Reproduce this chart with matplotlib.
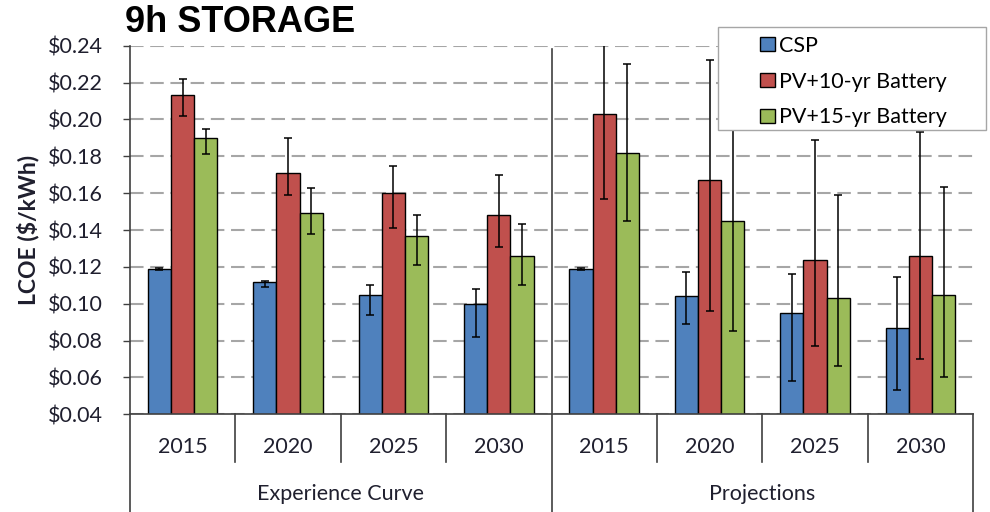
import numpy as np
import matplotlib.pyplot as plt
from matplotlib.patches import Patch, Rectangle

plt.rcParams['font.family'] = ['Lato', 'DejaVu Sans']

years = ["2015", "2020", "2025", "2030"]
groups = ["Experience Curve", "Projections"]
series = ["CSP", "PV+10-yr Battery", "PV+15-yr Battery"]
colors = ["#4F81BD", "#C0504D", "#9BBB59"]

# LCOE ($/kWh): 4 experience-curve years followed by 4 projection years
csp = [0.119, 0.112, 0.105, 0.100, 0.119, 0.104, 0.095, 0.087]
csp_lo = [0.1185, 0.109, 0.094, 0.082, 0.1185, 0.089, 0.058, 0.053]
csp_hi = [0.1195, 0.1125, 0.110, 0.108, 0.1195, 0.117, 0.116, 0.1145]

pv10 = [0.213, 0.171, 0.160, 0.148, 0.203, 0.167, 0.124, 0.126]
pv10_lo = [0.202, 0.159, 0.141, 0.131, 0.157, 0.096, 0.077, 0.070]
pv10_hi = [0.222, 0.190, 0.175, 0.170, 0.250, 0.232, 0.189, 0.193]

pv15 = [0.190, 0.149, 0.137, 0.126, 0.182, 0.145, 0.103, 0.105]
pv15_lo = [0.181, 0.138, 0.121, 0.110, 0.145, 0.085, 0.066, 0.060]
pv15_hi = [0.195, 0.163, 0.148, 0.143, 0.230, 0.205, 0.159, 0.1635]

yticks = [0.04, 0.06, 0.08, 0.10, 0.12, 0.14, 0.16, 0.18, 0.20, 0.22, 0.24]

TXT = "#1f1f2e"
FS = 15.5

fig = plt.figure(figsize=(9.9, 5.12), dpi=100)
ax = fig.add_axes([0.1313, 0.1908, 0.8517, 0.7199])

x = np.arange(len(years) * len(groups))
w = 0.22
data = [(csp, csp_lo, csp_hi), (pv10, pv10_lo, pv10_hi), (pv15, pv15_lo, pv15_hi)]
for i, (vals, lo, hi) in enumerate(data):
    vals = np.array(vals)
    err = [vals - np.array(lo), np.array(hi) - vals]
    ax.bar(x + (i - 1) * w, vals, width=w, color=colors[i], edgecolor="black",
           linewidth=1.0, zorder=2)
    ax.errorbar(x + (i - 1) * w, vals, yerr=err, fmt="none", ecolor="black",
                elinewidth=1.1, capsize=3, capthick=1.1, zorder=3)

ax.set_xlim(-0.5, 7.5)
ax.set_ylim(0.04, 0.24)
ax.set_yticks(yticks)
ax.set_yticklabels([f"${v:.2f}" for v in yticks], fontsize=FS, color=TXT)
ax.yaxis.grid(True, color="#A6A6A6", linewidth=1.5, linestyle=(0, (6.5, 3.2)))
ax.set_axisbelow(True)
ax.tick_params(axis="y", length=5, width=1, color="#404040", pad=14.5)
ax.set_xticks([])

for s in ["top", "right"]:
    ax.spines[s].set_visible(False)
for s in ["left", "bottom"]:
    ax.spines[s].set_color("#404040")
    ax.spines[s].set_linewidth(1.2)

ax.set_ylabel("LCOE ($/kWh)", fontsize=16.5, fontweight="bold", labelpad=6,
              color=TXT)

# two-level category axis below the plot
tr = ax.get_xaxis_transform()
for k, xi in enumerate(x):
    ax.text(xi, -0.089, years[k % len(years)], transform=tr, ha="center",
            va="center", fontsize=FS, color=TXT)
for b in [0.5, 1.5, 2.5, 4.5, 5.5, 6.5]:
    ax.plot([b, b], [0, -0.13], transform=tr, color="#404040", lw=1.2,
            clip_on=False)
for b in [-0.5, 7.5]:
    ax.plot([b, b], [0, -0.27], transform=tr, color="#404040", lw=1.2,
            clip_on=False)
ax.plot([3.5, 3.5], [0.99, -0.27], transform=tr, color="#404040", lw=1.2,
        clip_on=False, zorder=1)
ax.text(1.5, -0.216, groups[0], transform=tr, ha="center", va="center",
        fontsize=FS, color=TXT)
ax.text(5.5, -0.216, groups[1], transform=tr, ha="center", va="center",
        fontsize=FS, color=TXT)

fig.text(0.126, 0.99, "9h STORAGE", ha="left", va="top", fontsize=26,
         fontweight="bold", family="Liberation Sans")

# legend box partly sits above the plot area
fig.add_artist(Rectangle((718 / 990, 1 - 130 / 512), (986 - 718) / 990,
                         (130 - 27) / 512, transform=fig.transFigure,
                         facecolor="white", edgecolor="#A6A6A6", lw=1.0,
                         zorder=4))
handles = [Patch(facecolor=c, edgecolor="black", lw=1.0) for c in colors]
fig.legend(handles, series, loc="upper left",
           bbox_to_anchor=(751 / 990, 1 - 27 / 512), frameon=False,
           fontsize=FS, handlelength=0.7, handleheight=0.65,
           handletextpad=0.2, labelspacing=0.74, borderpad=0.4,
           borderaxespad=0)

fig.savefig("out.png", dpi=100)
